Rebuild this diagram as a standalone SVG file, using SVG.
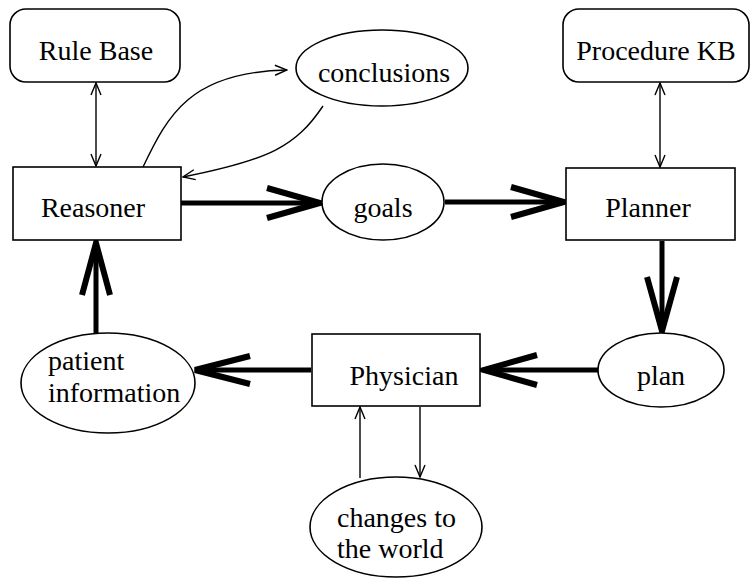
<svg xmlns="http://www.w3.org/2000/svg" width="751" height="578" viewBox="0 0 751 578" font-family="Liberation Serif, DejaVu Serif, serif">
  <style>
    .box { fill: #fff; stroke: #000; stroke-width: 1.6; }
    .lbl { font-size: 28px; fill: #000; }
    .mid { text-anchor: middle; }
    .thin { fill: none; stroke: #000; stroke-width: 1.4; }
    .thick { fill: none; stroke: #000; stroke-width: 5; }
    .head { fill: none; stroke: #000; stroke-width: 6; stroke-linejoin: miter; stroke-linecap: butt; }
  </style>
  <defs>
    <marker id="open" viewBox="0 0 14 12" refX="13" refY="6" markerWidth="14" markerHeight="12" markerUnits="userSpaceOnUse" orient="auto-start-reverse">
      <path d="M1,1 L13,6 L1,11" fill="none" stroke="#000" stroke-width="1.4"/>
    </marker>
  </defs>

  <rect width="751" height="578" fill="#fff"/>

  <!-- connectors -->
  <g id="connectors">
    <!-- knowledge base links -->
    <line class="thin" x1="96" y1="83" x2="96" y2="166" marker-start="url(#open)" marker-end="url(#open)"/>
    <line class="thin" x1="660" y1="83" x2="660" y2="167" marker-start="url(#open)" marker-end="url(#open)"/>
    <!-- reasoner <-> conclusions loop -->
    <path class="thin" d="M143,167 C168,115 190,72 287,70" marker-end="url(#open)"/>
    <path class="thin" d="M323,106 C296,146 270,160 183,177" marker-end="url(#open)"/>
    <!-- physician <-> world -->
    <line class="thin" x1="360" y1="478" x2="360" y2="407" marker-end="url(#open)"/>
    <line class="thin" x1="420" y1="407" x2="420" y2="477" marker-end="url(#open)"/>

    <!-- main loop: thick arrows -->
    <line class="thick" x1="181" y1="203" x2="320" y2="203"/>
    <path class="head" d="M267,188 L320,203 L267,218"/>
    <line class="thick" x1="445" y1="202" x2="564" y2="202"/>
    <path class="head" d="M511,187 L564,202 L511,217"/>
    <line class="thick" x1="662" y1="241" x2="662" y2="331"/>
    <path class="head" d="M647,277 L662,331 L677,277"/>
    <line class="thick" x1="598" y1="370" x2="484" y2="370"/>
    <path class="head" d="M537,355 L484,370 L537,385"/>
    <line class="thick" x1="311" y1="370" x2="195" y2="370"/>
    <path class="head" d="M250,356 L195,370 L250,384"/>
    <line class="thick" x1="96" y1="333" x2="96" y2="243"/>
    <path class="head" d="M82,295 L96,243 L110,295"/>
  </g>

  <!-- nodes -->
  <g id="rule-base">
    <rect class="box" x="10" y="9" width="170" height="73" rx="16"/>
    <text class="lbl mid" font-family="Liberation Serif, DejaVu Serif, serif" x="96" y="60">Rule Base</text>
  </g>
  <g id="procedure-kb">
    <rect class="box" x="563" y="9" width="186" height="73" rx="16"/>
    <text class="lbl mid" font-family="Liberation Serif, DejaVu Serif, serif" x="656" y="60">Procedure KB</text>
  </g>
  <g id="conclusions">
    <ellipse class="box" cx="382" cy="68" rx="86" ry="38"/>
    <text class="lbl mid" font-family="Liberation Serif, DejaVu Serif, serif" x="384" y="82">conclusions</text>
  </g>
  <g id="reasoner">
    <rect class="box" x="13" y="167" width="168" height="73"/>
    <text class="lbl mid" font-family="Liberation Serif, DejaVu Serif, serif" x="93" y="217">Reasoner</text>
  </g>
  <g id="goals">
    <ellipse class="box" cx="383" cy="202" rx="61" ry="38"/>
    <text class="lbl mid" font-family="Liberation Serif, DejaVu Serif, serif" x="383" y="217">goals</text>
  </g>
  <g id="planner">
    <rect class="box" x="566" y="168" width="169" height="72"/>
    <text class="lbl mid" font-family="Liberation Serif, DejaVu Serif, serif" x="648" y="217">Planner</text>
  </g>
  <g id="plan">
    <ellipse class="box" cx="661" cy="370" rx="63" ry="37"/>
    <text class="lbl mid" font-family="Liberation Serif, DejaVu Serif, serif" x="661" y="385">plan</text>
  </g>
  <g id="physician">
    <rect class="box" x="312" y="334" width="168" height="72"/>
    <text class="lbl mid" font-family="Liberation Serif, DejaVu Serif, serif" x="404" y="385">Physician</text>
  </g>
  <g id="patient-information">
    <ellipse class="box" cx="108" cy="383" rx="87" ry="50"/>
    <text class="lbl" font-family="Liberation Serif, DejaVu Serif, serif" x="48" y="370">patient</text>
    <text class="lbl" font-family="Liberation Serif, DejaVu Serif, serif" x="48" y="402">information</text>
  </g>
  <g id="changes-to-the-world">
    <ellipse class="box" cx="396" cy="527" rx="86" ry="50"/>
    <text class="lbl" font-family="Liberation Serif, DejaVu Serif, serif" x="337" y="527">changes to</text>
    <text class="lbl" font-family="Liberation Serif, DejaVu Serif, serif" x="337" y="558">the world</text>
  </g>
</svg>
